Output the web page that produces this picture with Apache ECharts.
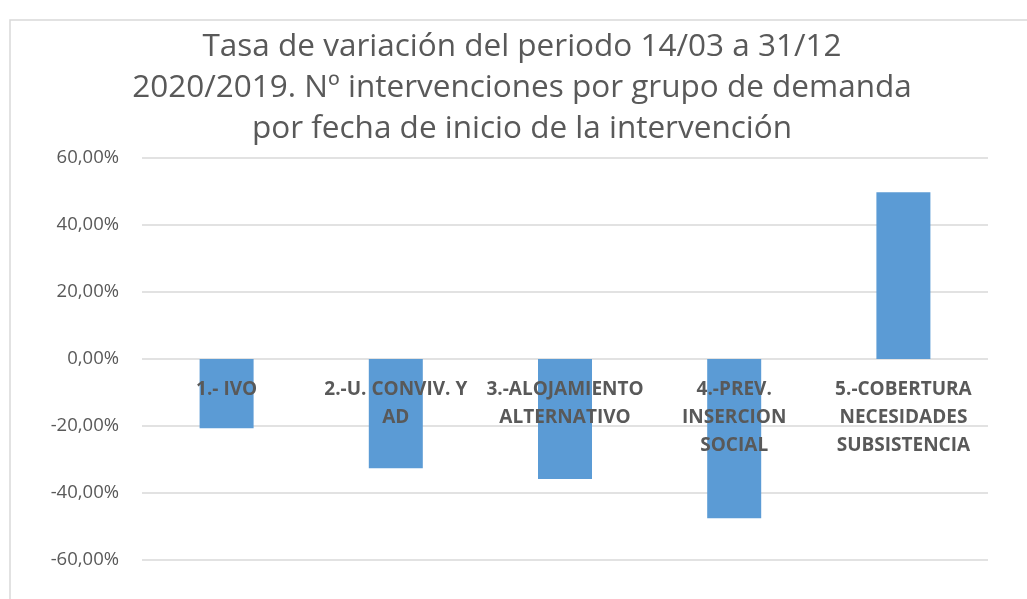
<!DOCTYPE html>
<html>
<head>
<meta charset="utf-8">
<script src="https://cdn.jsdelivr.net/npm/echarts@6/dist/echarts.min.js"></script>
<style>
  html, body { margin: 0; padding: 0; background: #fff; }
  #chart { width: 1027px; height: 599px; }
</style>
</head>
<body>
<div id="chart"></div>
<script>
// data
const categories = [
  "1.- IVO",
  "2.-U. CONVIV. Y\nAD",
  "3.-ALOJAMIENTO\nALTERNATIVO",
  "4.-PREV.\nINSERCION\nSOCIAL",
  "5.-COBERTURA\nNECESIDADES\nSUBSISTENCIA",
];
const rates = [-20.7, -32.6, -35.8, -47.5, 49.8];
const yTicks = [-60, -40, -20, 0, 20, 40, 60];

const titleText =
  "Tasa de variación del periodo 14/03 a 31/12\n" +
  "2020/2019. Nº intervenciones por grupo de demanda\n" +
  "por fecha de inicio de la intervención";

const chart = echarts.init(document.getElementById("chart"), null, { renderer: "canvas" });

const fmtPct = (v) => v.toFixed(2).replace(".", ",") + "%";

// plot box in px; category labels sit just under the 0 line, like Excel does
const gridTop = 158;
const gridBottom = 39;
const plotH = 599 - gridTop - gridBottom;
const zeroY = gridTop + plotH * (yTicks[yTicks.length - 1] / (yTicks[yTicks.length - 1] - yTicks[0]));
const labelMargin = Math.round(zeroY - (gridTop + plotH)) + 17;

chart.setOption({
  backgroundColor: "#ffffff",
  animation: false,
  title: {
    text: titleText,
    left: 517,
    textAlign: "center",
    top: 22,
    textStyle: {
      fontFamily: "Open Sans",
      fontWeight: "normal",
      fontSize: 31.5,
      lineHeight: 41,
      color: "#595959",
    },
  },
  graphic: [
    {
      type: "rect",
      shape: { x: 10, y: 20, width: 1040, height: 620 },
      style: { fill: "none", stroke: "#d9d9d9", lineWidth: 1.5 },
      silent: true,
    },
  ],
  grid: {
    left: 142,
    right: 39,
    top: gridTop,
    bottom: gridBottom,
    containLabel: false,
    outerBoundsMode: "none",
  },
  xAxis: {
    type: "category",
    data: categories,
    z: 10,
    axisLine: { show: false },
    axisTick: { show: false },
    axisLabel: {
      interval: 0,
      margin: labelMargin,
      fontFamily: "Open Sans",
      fontWeight: "bold",
      fontSize: 19,
      lineHeight: 28,
      color: "#595959",
    },
  },
  yAxis: {
    type: "value",
    min: yTicks[0],
    max: yTicks[yTicks.length - 1],
    interval: 20,
    axisLine: { show: false },
    axisTick: { show: false },
    splitLine: { lineStyle: { color: "#d9d9d9", width: 1.5 } },
    axisLabel: {
      margin: 23,
      fontFamily: "Open Sans",
      fontSize: 18.5,
      color: "#595959",
      formatter: fmtPct,
    },
  },
  series: [
    {
      type: "bar",
      data: rates,
      barWidth: 54,
      itemStyle: { color: "#5b9bd5" },
      z: 1,
    },
  ],
});
</script>
</body>
</html>
